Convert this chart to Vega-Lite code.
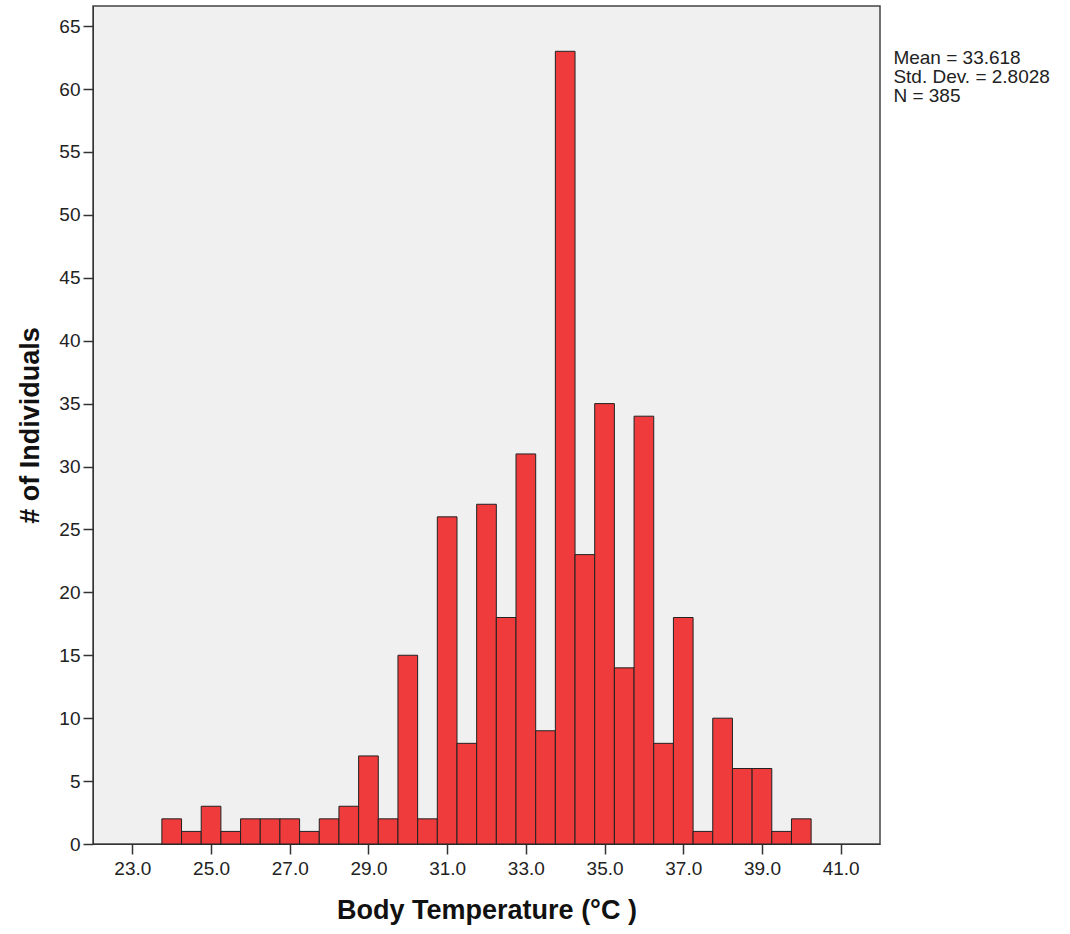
{
  "$schema": "https://vega.github.io/schema/vega-lite/v6.json",
  "width": 787,
  "height": 838,
  "autosize": "none",
  "padding": {"left": 93, "top": 6, "right": 190, "bottom": 90},
  "background": "white",
  "config": {
    "font": "Liberation Sans",
    "view": {"fill": "#f0f0f0", "stroke": "#444444", "strokeWidth": 1.5}
  },
  "layer": [
    {
      "data": {
        "values": [
          {"bin_start": 23.75, "bin_end": 24.25, "count": 2},
          {"bin_start": 24.25, "bin_end": 24.75, "count": 1},
          {"bin_start": 24.75, "bin_end": 25.25, "count": 3},
          {"bin_start": 25.25, "bin_end": 25.75, "count": 1},
          {"bin_start": 25.75, "bin_end": 26.25, "count": 2},
          {"bin_start": 26.25, "bin_end": 26.75, "count": 2},
          {"bin_start": 26.75, "bin_end": 27.25, "count": 2},
          {"bin_start": 27.25, "bin_end": 27.75, "count": 1},
          {"bin_start": 27.75, "bin_end": 28.25, "count": 2},
          {"bin_start": 28.25, "bin_end": 28.75, "count": 3},
          {"bin_start": 28.75, "bin_end": 29.25, "count": 7},
          {"bin_start": 29.25, "bin_end": 29.75, "count": 2},
          {"bin_start": 29.75, "bin_end": 30.25, "count": 15},
          {"bin_start": 30.25, "bin_end": 30.75, "count": 2},
          {"bin_start": 30.75, "bin_end": 31.25, "count": 26},
          {"bin_start": 31.25, "bin_end": 31.75, "count": 8},
          {"bin_start": 31.75, "bin_end": 32.25, "count": 27},
          {"bin_start": 32.25, "bin_end": 32.75, "count": 18},
          {"bin_start": 32.75, "bin_end": 33.25, "count": 31},
          {"bin_start": 33.25, "bin_end": 33.75, "count": 9},
          {"bin_start": 33.75, "bin_end": 34.25, "count": 63},
          {"bin_start": 34.25, "bin_end": 34.75, "count": 23},
          {"bin_start": 34.75, "bin_end": 35.25, "count": 35},
          {"bin_start": 35.25, "bin_end": 35.75, "count": 14},
          {"bin_start": 35.75, "bin_end": 36.25, "count": 34},
          {"bin_start": 36.25, "bin_end": 36.75, "count": 8},
          {"bin_start": 36.75, "bin_end": 37.25, "count": 18},
          {"bin_start": 37.25, "bin_end": 37.75, "count": 1},
          {"bin_start": 37.75, "bin_end": 38.25, "count": 10},
          {"bin_start": 38.25, "bin_end": 38.75, "count": 6},
          {"bin_start": 38.75, "bin_end": 39.25, "count": 6},
          {"bin_start": 39.25, "bin_end": 39.75, "count": 1},
          {"bin_start": 39.75, "bin_end": 40.25, "count": 2}
        ]
      },
      "mark": {"type": "bar", "fill": "#ef3b3b", "stroke": "#222222", "strokeWidth": 1},
      "encoding": {
        "x": {
          "field": "bin_start",
          "type": "quantitative",
          "scale": {"domain": [22, 42], "nice": false, "zero": false},
          "axis": {
            "values": [23, 25, 27, 29, 31, 33, 35, 37, 39, 41],
            "format": ".1f",
            "grid": false,
            "domainColor": "#333333",
            "tickColor": "#333333",
            "tickWidth": 1.5,
            "tickSize": 10,
            "labelFontSize": 19,
            "labelColor": "#222222",
            "labelPadding": 5,
            "title": "Body Temperature (°C )",
            "titleFontSize": 27,
            "titleFontWeight": "bold",
            "titleColor": "#111111",
            "titlePadding": 19
          }
        },
        "x2": {"field": "bin_end"},
        "y": {
          "field": "count",
          "type": "quantitative",
          "scale": {"domain": [0, 66.6], "nice": false},
          "axis": {
            "values": [0, 5, 10, 15, 20, 25, 30, 35, 40, 45, 50, 55, 60, 65],
            "format": "d",
            "grid": false,
            "domainColor": "#333333",
            "tickColor": "#333333",
            "tickWidth": 1.5,
            "tickSize": 10,
            "labelFontSize": 19,
            "labelColor": "#222222",
            "labelPadding": 3,
            "title": "# of Individuals",
            "titleFontSize": 27,
            "titleFontWeight": "bold",
            "titleColor": "#111111",
            "titlePadding": 14
          }
        },
        "y2": {"datum": 0}
      }
    },
    {
      "data": {"values": [{"label": ["Mean = 33.618", "Std. Dev. = 2.8028", "N = 385"]}]},
      "mark": {"type": "text", "align": "left", "baseline": "top", "fontSize": 19, "lineHeight": 19, "color": "#222222"},
      "encoding": {
        "x": {"datum": 42.34},
        "y": {"datum": 63.2},
        "text": {"field": "label"}
      }
    }
  ]
}
